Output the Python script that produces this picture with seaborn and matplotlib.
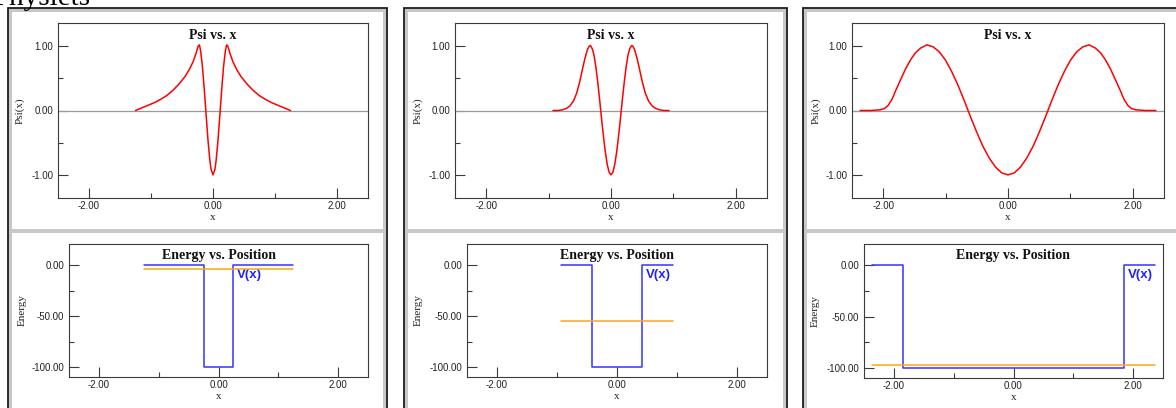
import matplotlib
matplotlib.use("Agg")
import matplotlib.pyplot as plt
import seaborn as sns
import pandas as pd
from matplotlib.patches import Rectangle
from matplotlib.ticker import FixedLocator, FormatStrFormatter

# ---------------- data ----------------
psi1_x = [-1.25, -1.15, -1.05, -0.95, -0.85, -0.75, -0.65, -0.55, -0.45, -0.38, -0.32, -0.27,
          -0.24, -0.22, -0.20, -0.17, -0.14, -0.11, -0.08, -0.05, -0.03, 0.00,
          0.03, 0.05, 0.08, 0.11, 0.14, 0.17, 0.20, 0.22, 0.24, 0.27, 0.32, 0.38,
          0.45, 0.55, 0.65, 0.75, 0.85, 0.95, 1.05, 1.15, 1.25]
psi1_y = [0.00, 0.04, 0.08, 0.12, 0.17, 0.23, 0.31, 0.41, 0.53, 0.64, 0.76, 0.90,
          1.00, 1.02, 0.93, 0.68, 0.32, -0.08, -0.47, -0.78, -0.92, -1.00,
          -0.92, -0.78, -0.47, -0.08, 0.32, 0.68, 0.93, 1.02, 1.00, 0.90, 0.76, 0.64,
          0.53, 0.41, 0.31, 0.23, 0.17, 0.12, 0.08, 0.04, 0.00]

psi2_x = [-0.93, -0.85, -0.78, -0.72, -0.66, -0.60, -0.55, -0.50, -0.46, -0.42, -0.38, -0.35,
          -0.33, -0.30, -0.27, -0.24, -0.21, -0.18, -0.15, -0.12, -0.09, -0.06, -0.03, 0.00,
          0.03, 0.06, 0.09, 0.12, 0.15, 0.18, 0.21, 0.24, 0.27, 0.30, 0.33, 0.35,
          0.38, 0.42, 0.46, 0.50, 0.55, 0.60, 0.66, 0.72, 0.78, 0.85, 0.93]
psi2_y = [0.00, 0.00, 0.01, 0.03, 0.07, 0.15, 0.27, 0.45, 0.63, 0.80, 0.94, 1.00,
          1.01, 0.96, 0.85, 0.66, 0.42, 0.15, -0.14, -0.41, -0.65, -0.84, -0.96, -1.00,
          -0.96, -0.84, -0.65, -0.41, -0.14, 0.15, 0.42, 0.66, 0.85, 0.96, 1.01, 1.00,
          0.94, 0.80, 0.63, 0.45, 0.27, 0.15, 0.07, 0.03, 0.01, 0.00, 0.00]

psi3_x = [-2.37, -2.20, -2.05, -1.98, -1.92, -1.86, -1.80, -1.72, -1.64, -1.56, -1.48, -1.40,
          -1.30, -1.20, -1.10, -1.00, -0.90, -0.80, -0.70, -0.60, -0.50, -0.40, -0.30, -0.20,
          -0.10, 0.00, 0.10, 0.20, 0.30, 0.40, 0.50, 0.60, 0.70, 0.80, 0.90, 1.00,
          1.10, 1.20, 1.30, 1.40, 1.48, 1.56, 1.64, 1.72, 1.80, 1.86, 1.92, 1.98,
          2.05, 2.20, 2.37]
psi3_y = [0.00, 0.00, 0.01, 0.03, 0.08, 0.17, 0.31, 0.48, 0.65, 0.79, 0.90, 0.97,
          1.02, 0.99, 0.91, 0.78, 0.60, 0.39, 0.15, -0.10, -0.34, -0.56, -0.74, -0.88,
          -0.97, -1.00, -0.97, -0.88, -0.74, -0.56, -0.34, -0.10, 0.15, 0.39, 0.60, 0.78,
          0.91, 0.99, 1.02, 0.97, 0.90, 0.79, 0.65, 0.48, 0.31, 0.17, 0.08, 0.03,
          0.01, 0.00, 0.00]

v_y = [0, 0, -100, -100, 0, 0]
v1_x = [-1.25, -0.245, -0.245, 0.245, 0.245, 1.25]
v2_x = [-0.93, -0.42, -0.42, 0.42, 0.42, 0.93]
v3_x = [-2.37, -1.85, -1.85, 1.85, 1.85, 2.37]

energy = [-3.5, -55.0, -96.5]

psi_sets = [(psi1_x, psi1_y), (psi2_x, psi2_y), (psi3_x, psi3_y)]
v_sets = [v1_x, v2_x, v3_x]

x_major = [-2, 0, 2]
x_minor = [-1, 1]
psi_major = [-1, 0, 1]
psi_minor = [-0.5, 0.5]
e_major = [-100, -50, 0]
e_minor = [-75, -25]

# ---------------- style ----------------
sns.set_style("white")
plt.rcParams["font.family"] = ["Liberation Sans", "DejaVu Sans"]
plt.rcParams["axes.unicode_minus"] = False

W, H = 1176, 408
fig = plt.figure(figsize=(W / 100, H / 100), dpi=100)
fig.patch.set_facecolor("white")


def fx(px):
    return px / W


def fy(py):
    return 1 - py / H


def box(x0, y0, x1, y1, **kw):
    r = Rectangle((fx(x0), fy(y1)), fx(x1) - fx(x0), fy(y0) - fy(y1),
                  transform=fig.transFigure, zorder=-5, **kw)
    fig.patches.append(r)


# frames: [left, right] of each column box in pixels
cols = [(8, 387), (404, 787), (803, 1190)]
for (c0, c1) in cols:
    box(c0, 8, c1, 420, facecolor="#c8c8c8", edgecolor="none")
    box(c0 + 4, 12, c1 - 4, 229, facecolor="white", edgecolor="none")
    box(c0 + 4, 233, c1 - 4, 420, facecolor="white", edgecolor="none")
    box(c0, 8, c1, 420, facecolor="none", edgecolor="#1e1e1e", linewidth=1.3)

# partially visible heading at the very top
fig.text(fx(-7), fy(5), "Physlets", family="Liberation Serif", fontsize=21,
         color="black", ha="left", va="baseline")

# axes boxes in pixels (left, top, right, bottom)
top_boxes = [(58, 23, 368, 198), (455, 23, 767, 198), (852, 23, 1164, 198)]
bot_boxes = [(69, 244, 368, 377), (467, 244, 767, 377), (864, 244, 1163, 378)]
psi_ylab_x = [0.123, 0.119, 0.115]
e_ylab_x = [0.157, 0.163, 0.164]

SPINE = "#3a3a3a"
SERIF = ["Liberation Serif", "DejaVu Serif"]


def make_ax(b):
    l, t, r, btm = b
    ax = fig.add_axes([fx(l), fy(btm), fx(r) - fx(l), fy(t) - fy(btm)])
    ax.set_facecolor("white")
    for s in ax.spines.values():
        s.set_visible(True)
        s.set_color(SPINE)
        s.set_linewidth(0.8)
    ax.tick_params(which="both", direction="in", color=SPINE, width=0.8,
                   labelsize=7, labelcolor="#222222", top=False, right=False,
                   bottom=True, left=True)
    ax.tick_params(which="major", length=7)
    ax.tick_params(which="minor", length=3.6)
    ax.tick_params(axis="y", pad=3.5)
    ax.tick_params(axis="x", pad=2.5)
    ax.set_xlim(-2.5, 2.5)
    ax.xaxis.set_major_locator(FixedLocator(x_major))
    ax.xaxis.set_minor_locator(FixedLocator(x_minor))
    ax.xaxis.set_major_formatter(FormatStrFormatter("%.2f"))
    ax.yaxis.set_major_formatter(FormatStrFormatter("%.2f"))
    return ax


for i in range(3):
    # ---- Psi panel ----
    ax = make_ax(top_boxes[i])
    ax.axhline(0, color="#9a9a9a", lw=0.9, zorder=1)
    px, py = psi_sets[i]
    df = pd.DataFrame({"x": px, "psi": py})
    sns.lineplot(data=df, x="x", y="psi", sort=False, estimator=None,
                 color="#ff0000", lw=1.1, ax=ax, zorder=3)
    ax.set_ylim(-1.36, 1.36)
    ax.yaxis.set_major_locator(FixedLocator(psi_major))
    ax.yaxis.set_minor_locator(FixedLocator(psi_minor))
    ax.set_title("")
    ax.text(0.5, 0.93, "Psi vs. x", transform=ax.transAxes, ha="center",
            va="center", family=SERIF, fontweight="bold", fontsize=10, color="#111111")
    ax.set_xlabel("x", family=SERIF, fontsize=8, color="#222222", va="top")
    ax.xaxis.set_label_coords(0.5, -0.085)
    ax.set_ylabel("Psi(x)", family=SERIF, fontsize=8, color="#222222", va="center")
    ax.yaxis.set_label_coords(-psi_ylab_x[i], 0.5)

    # ---- Energy panel ----
    ax = make_ax(bot_boxes[i])
    vx = v_sets[i]
    dv = pd.DataFrame({"x": vx, "V": v_y})
    sns.lineplot(data=dv, x="x", y="V", sort=False, estimator=None,
                 color="#3333ff", lw=1.1, ax=ax, zorder=3)
    de = pd.DataFrame({"x": [vx[0], vx[-1]], "E": [energy[i], energy[i]]})
    sns.lineplot(data=de, x="x", y="E", sort=False, estimator=None,
                 color="#ffa31a", lw=1.1, ax=ax, zorder=4)
    ax.set_ylim(-109.5, 20.5)
    ax.yaxis.set_major_locator(FixedLocator(e_major))
    ax.yaxis.set_minor_locator(FixedLocator(e_minor))
    ax.text(0.5, 0.917, "Energy vs. Position", transform=ax.transAxes, ha="center",
            va="center", family=SERIF, fontweight="bold", fontsize=10, color="#111111")
    ax.text(vx[3] + 0.07, -10, "V(x)", ha="left", va="center", color="#2020ff",
            fontweight="bold", fontsize=9.5, family=["Liberation Sans", "DejaVu Sans"])
    ax.set_xlabel("x", family=SERIF, fontsize=8, color="#222222", va="top")
    ax.xaxis.set_label_coords(0.5, -0.11)
    ax.set_ylabel("Energy", family=SERIF, fontsize=8, color="#222222", va="center")
    ax.yaxis.set_label_coords(-e_ylab_x[i], 0.5)

fig.savefig("out.png", dpi=100, facecolor="white")
